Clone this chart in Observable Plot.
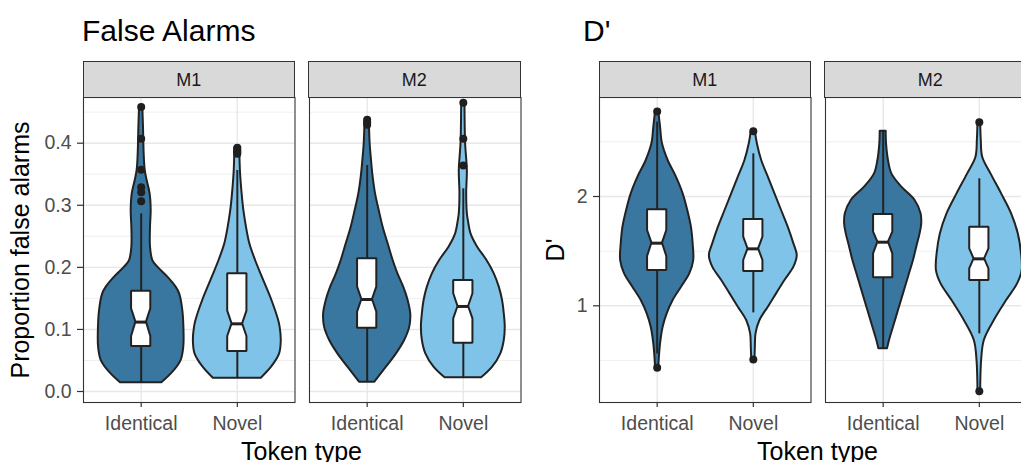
<!DOCTYPE html>
<html>
<head>
<meta charset="utf-8">
<script src="https://cdn.jsdelivr.net/npm/d3@7"></script>
<script src="https://cdn.jsdelivr.net/npm/@observablehq/plot@0.6"></script>
<style>
  html, body { margin: 0; padding: 0; background: #fff; }
  #root { position: relative; width: 1021px; height: 462px; overflow: hidden; background: #fff;
          font-family: "Liberation Sans", Arial, Helvetica, sans-serif; }
  .abs { position: absolute; white-space: nowrap; }
  .title { font-size: 30px; line-height: 30px; color: #000; }
  .axtitle { font-size: 25px; line-height: 25px; color: #000; }
  .strip { position: absolute; box-sizing: border-box; background: #d9d9d9; border: 1px solid #333;
           display: flex; align-items: center; justify-content: center; font-size: 18px; color: #1a1a1a; padding-top: 2px; }
</style>
</head>
<body>
<div id="root"></div>
<script>
// ---------- data ----------
const tokenTypes = ["Identical", "Novel"];
const models = ["M1", "M2"];

// violin outlines: [value, half-width (in category-position units)]
const faM1IdenticalViolin = [[0.014,0.215],[0.0311,0.33],[0.0499,0.415],[0.0714,0.443],[0.0929,0.446],[0.1305,0.433],[0.1574,0.40],[0.1681,0.363],[0.1842,0.277],[0.2003,0.173],[0.211,0.121],[0.2325,0.097],[0.2647,0.097],[0.2916,0.104],[0.3184,0.093],[0.3399,0.062],[0.3561,0.042],[0.3829,0.031],[0.4259,0.024],[0.4582,0.017]];
const faM1NovelViolin = [[0.0215,0.25],[0.04,0.36],[0.0607,0.44],[0.0822,0.457],[0.1037,0.445],[0.1144,0.43],[0.1466,0.36],[0.1842,0.26],[0.211,0.19],[0.2379,0.13],[0.2647,0.095],[0.2916,0.068],[0.3184,0.05],[0.3561,0.032],[0.3925,0.026]];
const faM2IdenticalViolin = [[0.015,0.08],[0.0392,0.20],[0.0607,0.305],[0.0822,0.39],[0.1037,0.443],[0.1252,0.453],[0.1466,0.426],[0.1681,0.38],[0.1896,0.32],[0.211,0.27],[0.2379,0.218],[0.2647,0.166],[0.2916,0.125],[0.3184,0.087],[0.3453,0.062],[0.3721,0.045],[0.399,0.031],[0.4376,0.022]];
const faM2NovelViolin = [[0.022,0.19],[0.0392,0.305],[0.0607,0.39],[0.0822,0.426],[0.1037,0.436],[0.1252,0.426],[0.1466,0.408],[0.1681,0.374],[0.1896,0.322],[0.211,0.246],[0.2325,0.149],[0.254,0.08],[0.2755,0.052],[0.2862,0.042],[0.3184,0.035],[0.3561,0.042],[0.399,0.024],[0.4651,0.017]];

const dM1IdenticalViolin = [[0.4326,0.017],[0.4992,0.021],[0.6517,0.035],[0.8042,0.062],[0.9262,0.104],[1.0482,0.166],[1.1703,0.253],[1.2923,0.339],[1.4143,0.38],[1.5668,0.374],[1.7194,0.356],[1.8719,0.318],[2.0244,0.27],[2.1769,0.20],[2.3294,0.114],[2.482,0.055],[2.6346,0.035],[2.7777,0.017]];
const dM1NovelViolin = [[0.5084,0.017],[0.6212,0.021],[0.7432,0.028],[0.8652,0.069],[0.9873,0.156],[1.1093,0.242],[1.2313,0.329],[1.3533,0.422],[1.4601,0.457],[1.5668,0.422],[1.7194,0.363],[1.8719,0.294],[2.0244,0.225],[2.1769,0.156],[2.3294,0.087],[2.482,0.042],[2.5975,0.021]];
const dM2IdenticalViolin = [[0.606,0.045],[0.6822,0.066],[0.8042,0.107],[0.9567,0.159],[1.1093,0.211],[1.2618,0.263],[1.4143,0.315],[1.5363,0.349],[1.6583,0.384],[1.7499,0.401],[1.8414,0.394],[1.9634,0.332],[2.0854,0.194],[2.2074,0.09],[2.3294,0.055],[2.482,0.035],[2.5975,0.031]];
const dM2NovelViolin = [[0.2188,0.014],[0.4992,0.024],[0.6822,0.052],[0.8652,0.156],[1.0482,0.284],[1.2008,0.398],[1.3228,0.446],[1.4753,0.439],[1.6583,0.405],[1.8414,0.336],[2.0244,0.232],[2.2074,0.121],[2.3599,0.035],[2.52,0.02],[2.6798,0.014]];

// box statistics: model, token, lower whisker, q1, notch low, median, notch high, q3, upper whisker
const faBoxStats = [
  ["M1","Identical",0.014,0.0725,0.0886,0.1118,0.1332,0.1617,0.2862],
  ["M1","Novel",0.0215,0.0645,0.0886,0.109,0.1295,0.1896,0.3561],
  ["M2","Identical",0.015,0.1021,0.1278,0.1482,0.1681,0.2137,0.3641],
  ["M2","Novel",0.022,0.0779,0.1171,0.137,0.1574,0.1789,0.3265]
];
const dBoxStats = [
  ["M1","Identical",0.56,1.3228,1.4509,1.5729,1.689,1.878,2.68],
  ["M1","Novel",0.9353,1.3136,1.4143,1.521,1.6278,1.79,2.3904],
  ["M2","Identical",0.606,1.2557,1.4753,1.582,1.6735,1.8353,2.5975],
  ["M2","Novel",0.7432,1.2313,1.3381,1.4296,1.521,1.7194,2.1616]
];

// outliers: model, token, value
const faOutliers = [
  ["M1","Identical",0.4582],["M1","Identical",0.4071],["M1","Identical",0.3571],["M1","Identical",0.3292],["M1","Identical",0.3211],["M1","Identical",0.3066],
  ["M1","Novel",0.3925],["M1","Novel",0.389],["M1","Novel",0.386],["M1","Novel",0.383],
  ["M2","Identical",0.4376],["M2","Identical",0.4339],["M2","Identical",0.4296],
  ["M2","Novel",0.4651],["M2","Novel",0.4071],["M2","Novel",0.3641]
];
const dOutliers = [
  ["M1","Identical",2.7777],["M1","Identical",0.4326],
  ["M1","Novel",2.5975],["M1","Novel",0.5084],
  ["M2","Novel",2.6798],["M2","Novel",0.2188]
];

const faMajorTicks = [0, 0.1, 0.2, 0.3, 0.4];
const faMinorTicks = [0.05, 0.15, 0.25, 0.35, 0.45];
const dMajorTicks = [1, 2];
const dMinorTicks = [0.5, 1.5, 2.5];

const fillColors = {Identical: "#3a77a0", Novel: "#80c3e8"};

// ---------- drawing ----------
const root = document.getElementById("root");
const INK = "#222222";
const BOXW = 0.1, NOTCHW = 0.055;
const pos = t => tokenTypes.indexOf(t) + 1;

function panel({model, violins, boxStats, outliers, yDomain, major, minor, showY, tickFormat, left, marginLeft}) {
  const boxes = boxStats.filter(r => r[0] === model).map(r => ({
    token: r[1], p: pos(r[1]), lo: r[2], q1: r[3], nlo: r[4], med: r[5], nhi: r[6], q3: r[7], hi: r[8]
  }));
  const outs = outliers.filter(r => r[0] === model).map(r => ({p: pos(r[1]), v: r[2]}));
  const marks = [
    Plot.ruleY(minor, {stroke: "#ebebeb", strokeWidth: 0.8}),
    Plot.ruleY(major, {stroke: "#e8e8e8", strokeWidth: 1.4}),
    Plot.ruleX([1, 2], {stroke: "#e8e8e8", strokeWidth: 1.4})
  ];
  for (const v of violins) {
    const c = pos(v.token);
    const pts = v.outline.slice().sort((a, b) => a[0] - b[0]);
    marks.push(Plot.areaX(pts, {y: d => d[0], x1: d => c - d[1], x2: d => c + d[1],
      fill: fillColors[v.token], stroke: INK, strokeWidth: 2, curve: "catmull-rom"}));
  }
  marks.push(Plot.ruleX(boxes, {x: "p", y1: "lo", y2: "q1", stroke: INK, strokeWidth: 2}));
  marks.push(Plot.ruleX(boxes, {x: "p", y1: "q3", y2: "hi", stroke: INK, strokeWidth: 2}));
  for (const b of boxes) {
    const notch = [[b.q1, BOXW], [b.nlo, BOXW], [b.med, NOTCHW], [b.nhi, BOXW], [b.q3, BOXW]];
    marks.push(Plot.areaX(notch, {y: d => d[0], x1: d => b.p - d[1], x2: d => b.p + d[1],
      fill: "white", stroke: INK, strokeWidth: 2, strokeLinejoin: "miter"}));
  }
  marks.push(Plot.ruleY(boxes, {y: "med", x1: d => d.p - NOTCHW, x2: d => d.p + NOTCHW, stroke: INK, strokeWidth: 3}));
  marks.push(Plot.dot(outs, {x: "p", y: "v", r: 4, fill: "#1f1f1f", stroke: null}));
  marks.push(Plot.frame({stroke: "#333", strokeWidth: 1.1}));
  marks.push(Plot.axisX({ticks: [1, 2], tickFormat: d => tokenTypes[d - 1], tickSize: 5, tickPadding: 9,
    label: null, stroke: "#333", strokeWidth: 1.2, fill: "#4d4d4d", fontSize: 19.5}));
  if (showY) marks.push(Plot.axisY({ticks: major, tickFormat, tickSize: 6, tickPadding: 6,
    label: null, stroke: "#333", strokeWidth: 1.2, fill: "#4d4d4d", fontSize: 19.5}));
  const mr = 2.5, pw = 211.5;
  const svg = Plot.plot({
    width: marginLeft + pw + mr,
    height: 367,
    marginLeft, marginRight: mr, marginTop: 2, marginBottom: 60,
    x: {type: "linear", domain: [0.4, 2.6], axis: null},
    y: {domain: yDomain, axis: null},
    style: {fontFamily: "Liberation Sans, Arial, sans-serif", fontSize: "19.5px", background: "transparent", overflow: "visible", color: "#4d4d4d"},
    marks
  });
  svg.style.position = "absolute";
  svg.style.left = left + "px";
  svg.style.top = "95px";
  root.appendChild(svg);
  // facet strip
  const s = document.createElement("div");
  s.className = "strip";
  s.style.left = (left + marginLeft - 0.5) + "px";
  s.style.top = "61px";
  s.style.width = (pw + 1) + "px";
  s.style.height = "37px";
  s.textContent = model;
  root.appendChild(s);
}

const faViol = {
  M1: [{token: "Identical", outline: faM1IdenticalViolin}, {token: "Novel", outline: faM1NovelViolin}],
  M2: [{token: "Identical", outline: faM2IdenticalViolin}, {token: "Novel", outline: faM2NovelViolin}]
};
const dViol = {
  M1: [{token: "Identical", outline: dM1IdenticalViolin}, {token: "Novel", outline: dM1NovelViolin}],
  M2: [{token: "Identical", outline: dM2IdenticalViolin}, {token: "Novel", outline: dM2NovelViolin}]
};

const faY = [-0.0177, 0.4736];
const dY = [0.1153, 2.9058];

panel({model: models[0], violins: faViol.M1, boxStats: faBoxStats, outliers: faOutliers, yDomain: faY,
  major: faMajorTicks, minor: faMinorTicks, showY: true, tickFormat: d3.format(".1f"), left: 0, marginLeft: 83});
panel({model: models[1], violins: faViol.M2, boxStats: faBoxStats, outliers: faOutliers, yDomain: faY,
  major: faMajorTicks, minor: faMinorTicks, showY: false, left: 306.5, marginLeft: 2});
panel({model: models[0], violins: dViol.M1, boxStats: dBoxStats, outliers: dOutliers, yDomain: dY,
  major: dMajorTicks, minor: dMinorTicks, showY: true, tickFormat: d => String(d), left: 540, marginLeft: 59});
panel({model: models[1], violins: dViol.M2, boxStats: dBoxStats, outliers: dOutliers, yDomain: dY,
  major: dMajorTicks, minor: dMinorTicks, showY: false, left: 822.5, marginLeft: 2});

// titles and axis titles
function label(text, cls, css) {
  const d = document.createElement("div");
  d.className = "abs " + cls;
  Object.assign(d.style, css);
  d.textContent = text;
  root.appendChild(d);
}
label("False Alarms", "title", {left: "82px", top: "15.6px"});
label("D'", "title", {left: "583px", top: "15.6px"});
label("Token type", "axtitle", {left: "101.5px", width: "400px", textAlign: "center", top: "438.5px"});
label("Token type", "axtitle", {left: "617.5px", width: "400px", textAlign: "center", top: "438.5px"});
label("Proportion false alarms", "axtitle", {left: "19.6px", top: "249.5px", width: "400px", textAlign: "center",
  transform: "translate(-50%, -50%) rotate(-90deg)"});
label("D'", "axtitle", {left: "554.6px", top: "249.5px", width: "100px", textAlign: "center",
  transform: "translate(-50%, -50%) rotate(-90deg)"});
</script>
</body>
</html>
